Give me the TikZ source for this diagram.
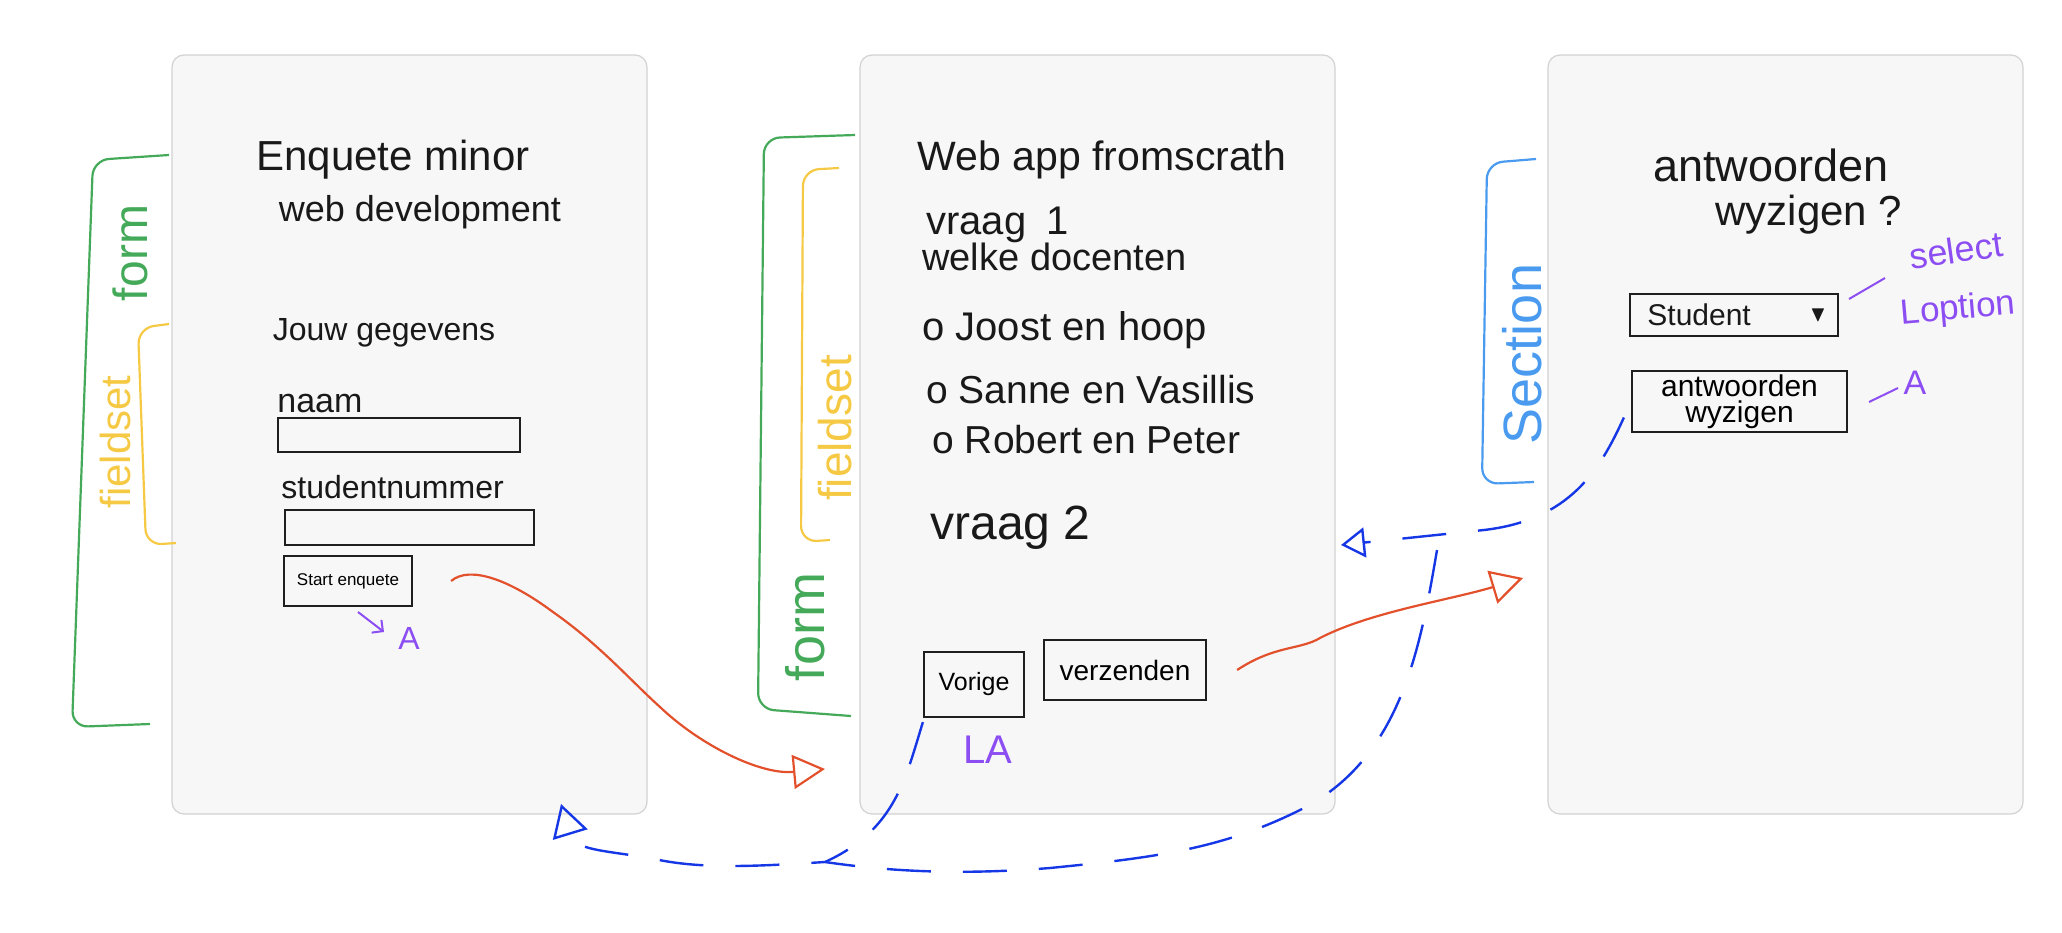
\documentclass[tikz,border=0pt]{standalone}
\usepackage{amssymb}
\usepackage{fontspec}
\setmainfont{Liberation Sans}
\usetikzlibrary{arrows.meta,positioning}

\definecolor{panelfill}{HTML}{F7F7F7}
\definecolor{paneldraw}{HTML}{D2D2D2}
\definecolor{sketchgreen}{HTML}{45A95A}
\definecolor{sketchyellow}{HTML}{F6C945}
\definecolor{sketchblue}{HTML}{4A9BEF}
\definecolor{sketchnavy}{HTML}{1637E6}
\definecolor{sketchred}{HTML}{E2502C}
\definecolor{sketchpurple}{HTML}{8C4DF2}

\begin{document}
\begin{tikzpicture}[
    x=0.5pt,y=-0.5pt,
    screen/.style={draw=paneldraw,fill=panelfill,rounded corners=6pt,line width=0.6pt,
      minimum width=237.5pt,minimum height=379.5pt},
    field/.style={draw=black!88,line width=1.1pt,inner sep=0pt},
    hand/.style={inner sep=0pt,text=black!90},
    sidetag/.style={inner sep=0pt,rotate=90},
    brace/.style={line width=1.1pt,rounded corners=8pt},
    flowred/.style={draw=sketchred,line width=1.1pt,
      -{Triangle[open,length=16pt,width=17pt]}},
    backlink/.style={draw=sketchnavy,line width=1.2pt,dash pattern=on 22pt off 16pt},
    note/.style={draw=sketchpurple,line width=1pt}
  ]
    \useasboundingbox (0,0) rectangle (2062,932);

    \node[screen] (enquete) at (409.5,434.5) {};
    \node[screen] (vragen) at (1097.5,434.5) {};
    \node[screen] (wijzig) at (1785.5,434.5) {};

    \node[hand,font=\fontsize{21}{24}\selectfont] (titleA) at (393,160) {Enquete minor};
    \node[hand,font=\fontsize{18}{21}\selectfont] (subA) at (420,212) {web development};
    \node[hand,font=\fontsize{16}{19}\selectfont] (gegevens) at (384,333) {Jouw gegevens};
    \node[hand,font=\fontsize{17}{19}\selectfont,anchor=west] (naam) at (277,404) {naam};
    \node[field,minimum width=121pt,minimum height=17pt] (naaminput) at (399,435) {};
    \node[hand,font=\fontsize{16}{19}\selectfont,anchor=west] (studnr) at (281,487) {studentnummer};
    \node[field,minimum width=124.5pt,minimum height=17.5pt] (studnrinput) at (409.5,527.5) {};
    \node[field,minimum width=64pt,minimum height=25pt,font=\fontsize{8.5}{10}\selectfont] (startbtn) at (348,581) {Start enquete};
    \node[hand,text=sketchpurple,font=\fontsize{16}{18}\selectfont] (linkA) at (409,638) {A};
    \coordinate (pointA) at (358,612);
    \coordinate (pointAend) at (384,632);
    \draw[note,-{Straight Barb[length=4pt]}] (pointA) -- (pointAend);

    \draw[brace,sketchgreen] (169,155) -- (93,160) -- (72,727) -- (150,724);
    \node[sidetag,text=sketchgreen,font=\fontsize{24}{26}\selectfont] (formA) at (130,253) {form};
    \draw[brace,sketchyellow] (169,324) -- (138,328) -- (146,545) -- (176,543);
    \node[sidetag,text=sketchyellow,font=\fontsize{21}{24}\selectfont] (fieldsetA) at (115,442) {fieldset};

    \node[hand,font=\fontsize{20.5}{24}\selectfont] (titleB) at (1102,160) {Web app fromscrath};
    \node[hand,font=\fontsize{20}{24}\selectfont,anchor=west] (vraag1) at (926,225) {vraag\enspace 1};
    \node[hand,font=\fontsize{19}{22}\selectfont,anchor=west] (welke) at (922,257) {welke docenten};
    \node[hand,font=\fontsize{20}{24}\selectfont,anchor=west] (optJoost) at (922,330) {o Joost en hoop};
    \node[hand,font=\fontsize{19.5}{23}\selectfont,anchor=west] (optSanne) at (926,390) {o Sanne en Vasillis};
    \node[hand,font=\fontsize{19.5}{23}\selectfont,anchor=west] (optRobert) at (932,440) {o Robert en Peter};
    \node[hand,font=\fontsize{24}{28}\selectfont,anchor=west] (vraag2) at (930,528) {vraag 2};
    \node[field,minimum width=50pt,minimum height=32.5pt,font=\fontsize{12.5}{14}\selectfont] (vorige) at (974,684.5) {Vorige};
    \node[field,minimum width=81pt,minimum height=30pt,font=\fontsize{14}{16}\selectfont] (verzenden) at (1125,670) {verzenden};
    \node[hand,text=sketchpurple,font=\fontsize{20}{22}\selectfont] (linkLA) at (988,750) {LA};

    \draw[brace,sketchgreen] (855,135) -- (764,138) -- (758,709) -- (851,716);
    \node[sidetag,text=sketchgreen,font=\fontsize{27}{30}\selectfont] (formB) at (805,627) {form};
    \draw[brace,sketchyellow] (839,168) -- (803,170) -- (801,542) -- (830,540);
    \node[sidetag,text=sketchyellow,font=\fontsize{23}{26}\selectfont] (fieldsetB) at (835,428) {fieldset};

    \node[hand,font=\fontsize{22.5}{26}\selectfont] (titleC) at (1771,165) {antwoorden};
    \node[hand,font=\fontsize{21}{24}\selectfont] (subC) at (1809,215) {wyzigen ?};
    \node[field,minimum width=104pt,minimum height=21pt] (select) at (1734,315) {};
    \node[hand,font=\fontsize{15}{17}\selectfont,anchor=west] (selectval) at (1647,315) {Student};
    \node[hand,font=\fontsize{11}{12}\selectfont] (selectcaret) at (1818,315) {$\blacktriangledown$};
    \node[field,minimum width=107.5pt,minimum height=30.5pt,align=center,font=\fontsize{15}{13}\selectfont] (wijzigbtn) at (1739.5,401.5) {antwoorden\\wyzigen};
    \node[hand,text=sketchpurple,font=\fontsize{18}{20}\selectfont,rotate=8] (selnote) at (1956,250) {select};
    \node[hand,text=sketchpurple,font=\fontsize{17.5}{20}\selectfont,rotate=5] (optnote) at (1958,310) {Loption};
    \coordinate (selfrom) at (1849,299);
    \coordinate (selto) at (1885,278);
    \draw[note] (selfrom) -- (selto);
    \node[hand,text=sketchpurple,font=\fontsize{17}{19}\selectfont] (linkC) at (1915,383) {A};
    \coordinate (linkCfrom) at (1869,402);
    \coordinate (linkCto) at (1898,388);
    \draw[note] (linkCfrom) -- (linkCto);

    \draw[brace,sketchblue] (1536,159) -- (1487,163) -- (1482,484) -- (1534,482);
    \node[sidetag,text=sketchblue,font=\fontsize{27}{30}\selectfont] (sectionC) at (1522,354) {Section};

    \coordinate (toVragen) at (825,769);
    \coordinate (toWijzig) at (1523,578);
    \draw[flowred] ([xshift=19pt]startbtn.east) .. controls (470,565) and (510,580) .. (553,612)
      .. controls (600,645) and (630,680) .. (660,707) .. controls (700,745) and (760,775) .. (toVragen);
    \draw[flowred] ([xshift=15pt]verzenden.east) .. controls (1275,645) and (1300,650) .. (1320,638)
      .. controls (1370,612) and (1450,600) .. (toWijzig);

    \coordinate (toVragenR) at (1341,545);
    \coordinate (branch) at (1437,550);
    \coordinate (join) at (825,862);
    \coordinate (toEnquete) at (561,804);
    \draw[backlink,-{Triangle[open,length=12pt,width=15pt]}] ([xshift=-3.5pt,yshift=-8pt]wijzigbtn.west)
      .. controls (1600,470) and (1570,520) .. (1484,530) -- (toVragenR);
    \draw[backlink,-{Triangle[open,length=16pt,width=18pt]}] (branch) .. controls (1420,650) and (1400,760) .. (1300,810)
      .. controls (1220,850) and (1150,858) .. (1050,868) .. controls (950,876) and (880,870) .. (join)
      .. controls (760,866) and (700,870) .. (650,858) .. controls (600,850) and (575,850) .. (toEnquete);
    \draw[backlink] ([yshift=-2pt]vorige.south west) .. controls (905,780) and (895,830) .. (join);
  \end{tikzpicture}
\end{document}
